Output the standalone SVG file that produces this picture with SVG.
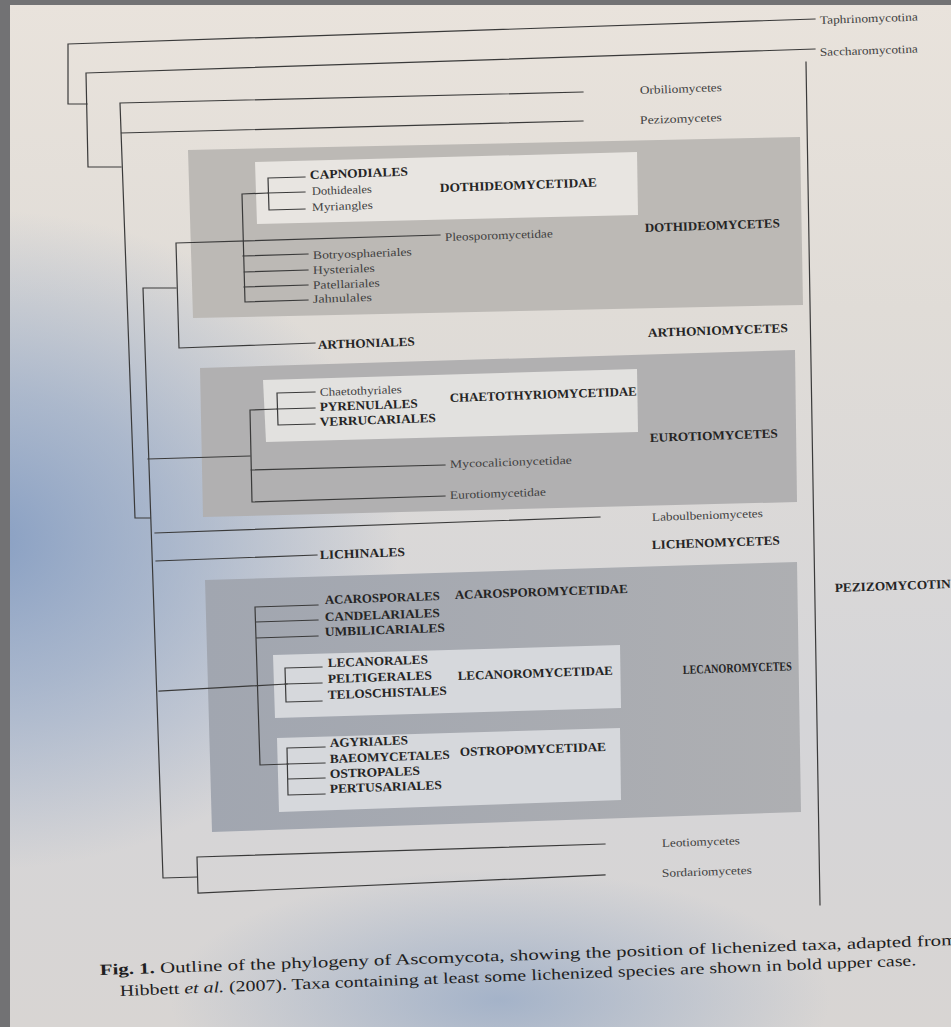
<svg xmlns="http://www.w3.org/2000/svg" width="951" height="1027" viewBox="0 0 951 1027">
<defs>
<linearGradient id="pg" x1="0" y1="0" x2="0" y2="1">
<stop offset="0" stop-color="#e9e3dc"/>
<stop offset="0.3" stop-color="#e0dcd7"/>
<stop offset="0.7" stop-color="#d5d5d8"/>
<stop offset="1" stop-color="#d8d5d3"/>
</linearGradient>
<radialGradient id="bl" gradientUnits="userSpaceOnUse" cx="0" cy="0" r="1" gradientTransform="translate(-20,540) scale(420,330)">
<stop offset="0" stop-color="#7e98c0" stop-opacity="0.9"/>
<stop offset="0.45" stop-color="#8aa1c4" stop-opacity="0.6"/>
<stop offset="1" stop-color="#8aa1c4" stop-opacity="0"/>
</radialGradient>
<radialGradient id="bb" gradientUnits="userSpaceOnUse" cx="0" cy="0" r="1" gradientTransform="translate(500,1000) scale(330,130)">
<stop offset="0" stop-color="#8ea4c4" stop-opacity="0.7"/>
<stop offset="1" stop-color="#8ea4c4" stop-opacity="0"/>
</radialGradient>
<linearGradient id="lg" x1="0" y1="0" x2="1" y2="0">
<stop offset="0" stop-color="#a1a6b0"/>
<stop offset="1" stop-color="#aeafb2"/>
</linearGradient>
</defs>
<style>
.ln{stroke:#3a3a3a;stroke-width:1.2;fill:none;stroke-linecap:square}
.r{font-family:"Liberation Serif","Times New Roman",serif;font-size:11.5px;fill:#3f3f3f}
.b{font-family:"Liberation Serif","Times New Roman",serif;font-size:12.5px;font-weight:bold;fill:#242424}
.cap{font-family:"Liberation Serif","Times New Roman",serif;font-size:15.5px;fill:#1e1e22}
</style>
<g id="background">
<rect x="0" y="0" width="951" height="1027" fill="url(#pg)"/>
<rect x="0" y="0" width="951" height="1027" fill="url(#bl)"/>
<rect x="0" y="0" width="951" height="1027" fill="url(#bb)"/>
<rect x="0" y="0" width="10" height="1027" fill="#727274"/>
<rect x="0" y="0" width="951" height="5" fill="#727274"/>
</g>
<g id="boxes">
<polygon id="box-dothideomycetes" points="188,150 800,137 803,305 193,318" fill="#bcb9b5"/>
<polygon id="box-dothideomycetidae" points="255,162 637,152 638,215 257,224" fill="#e8e5e1"/>
<polygon id="box-eurotiomycetes" points="200,368 795,350 797,502 203,517" fill="#b1b0b1"/>
<polygon id="box-chaetothyriomycetidae" points="263,380 637,369 638,432 266,442" fill="#e2e1df"/>
<polygon id="box-lecanoromycetes" points="205,580 797,562 801,812 212,832" fill="url(#lg)"/>
<polygon id="box-lecanoromycetidae" points="273,655 620,645 621,708 275,718" fill="#d6d8dc"/>
<polygon id="box-ostropomycetidae" points="277,738 620,728 621,800 279,812" fill="#d6d8dc"/>
</g>
<g id="connectors" class="ln">
<path d="M68,44 L68,104 M68,44 L815,19 M68,104 L87,104"/>
<path d="M86,73 L88,167 M86,73 L815,49 M88,167 L121,167"/>
<path d="M120,103 L135,518 M120,103 L583,92 M121,133 L583,121 M135,518 L150,518"/>
<path d="M143,288 L163,878 M143,288 L176,288 M148,459 L250,456 M155,533 L600,517 M156,561 L317,555 M159,691 L287,684 M163,878 L197,877"/>
<path d="M176,243 L179,348 M176,243 L440,235 M179,348 L315,343"/>
<path d="M242,194 L245,302 M242,194 L268,193 M243,256 L308,254 M244,272 L308,270 M244,287 L308,285 M245,302 L308,300"/>
<path d="M268,178 L269,210 M268,178 L305,177 M268,193 L305,192 M269,210 L305,209"/>
<path d="M250,410 L252,502 M250,410 L277,409 M251,470 L445,465 M252,502 L445,496"/>
<path d="M277,393 L278,425 M277,393 L315,392 M277,409 L315,408 M278,425 L315,424"/>
<path d="M255,607 L260,765 M255,607 L318,605 M256,622 L318,620 M256,638 L318,636 M260,765 L288,764"/>
<path d="M285,668 L286,702 M285,668 L322,667 M285,684 L322,683 M286,702 L322,701"/>
<path d="M287,748 L288,795 M287,748 L325,747 M287,764 L325,763 M288,779 L325,778 M288,795 L325,794"/>
<path d="M197,857 L198,893 M197,857 L605,844 M198,893 L605,875"/>
<path d="M806,62 L820,905"/>
</g>
<g id="n-taphrinomycotina"><text class="r" x="820" y="24" textLength="98" lengthAdjust="spacingAndGlyphs" transform="rotate(-2 820 24)">Taphrinomycotina</text></g>
<g id="n-saccharomycotina"><text class="r" x="820" y="56" textLength="98" lengthAdjust="spacingAndGlyphs" transform="rotate(-2 820 56)">Saccharomycotina</text></g>
<g id="n-orbiliomycetes"><text class="r" x="640" y="94" textLength="82" lengthAdjust="spacingAndGlyphs" transform="rotate(-2 640 94)">Orbiliomycetes</text></g>
<g id="n-pezizomycetes"><text class="r" x="640" y="124" textLength="82" lengthAdjust="spacingAndGlyphs" transform="rotate(-2 640 124)">Pezizomycetes</text></g>
<g id="n-capnodiales"><text class="b" x="310" y="179" textLength="98" lengthAdjust="spacingAndGlyphs" transform="rotate(-2 310 179)">CAPNODIALES</text></g>
<g id="n-dothideales"><text class="r" x="312" y="195" textLength="60" lengthAdjust="spacingAndGlyphs" transform="rotate(-2 312 195)">Dothideales</text></g>
<g id="n-myriangles"><text class="r" x="312" y="211" textLength="61" lengthAdjust="spacingAndGlyphs" transform="rotate(-2 312 211)">Myriangles</text></g>
<g id="n-dothideomycetidae"><text class="b" x="440" y="192" textLength="157" lengthAdjust="spacingAndGlyphs" transform="rotate(-2 440 192)">DOTHIDEOMYCETIDAE</text></g>
<g id="n-pleosporomycetidae"><text class="r" x="445" y="241" textLength="108" lengthAdjust="spacingAndGlyphs" transform="rotate(-2 445 241)">Pleosporomycetidae</text></g>
<g id="n-dothideomycetes"><text class="b" x="645" y="232" textLength="135" lengthAdjust="spacingAndGlyphs" transform="rotate(-2 645 232)">DOTHIDEOMYCETES</text></g>
<g id="n-botryosphaeriales"><text class="r" x="313" y="259" textLength="99" lengthAdjust="spacingAndGlyphs" transform="rotate(-2 313 259)">Botryosphaeriales</text></g>
<g id="n-hysteriales"><text class="r" x="313" y="274" textLength="62" lengthAdjust="spacingAndGlyphs" transform="rotate(-2 313 274)">Hysteriales</text></g>
<g id="n-patellariales"><text class="r" x="313" y="289" textLength="67" lengthAdjust="spacingAndGlyphs" transform="rotate(-2 313 289)">Patellariales</text></g>
<g id="n-jahnulales"><text class="r" x="313" y="303" textLength="59" lengthAdjust="spacingAndGlyphs" transform="rotate(-2 313 303)">Jahnulales</text></g>
<g id="n-arthoniales"><text class="b" x="318" y="349" textLength="97" lengthAdjust="spacingAndGlyphs" transform="rotate(-2 318 349)">ARTHONIALES</text></g>
<g id="n-arthoniomycetes"><text class="b" x="648" y="337" textLength="140" lengthAdjust="spacingAndGlyphs" transform="rotate(-2 648 337)">ARTHONIOMYCETES</text></g>
<g id="n-chaetothyriales"><text class="r" x="320" y="396" textLength="82" lengthAdjust="spacingAndGlyphs" transform="rotate(-2 320 396)">Chaetothyriales</text></g>
<g id="n-pyrenulales"><text class="b" x="320" y="411" textLength="98" lengthAdjust="spacingAndGlyphs" transform="rotate(-2 320 411)">PYRENULALES</text></g>
<g id="n-verrucariales"><text class="b" x="320" y="426" textLength="116" lengthAdjust="spacingAndGlyphs" transform="rotate(-2 320 426)">VERRUCARIALES</text></g>
<g id="n-chaetothyriomycetidae"><text class="b" x="450" y="402" textLength="187" lengthAdjust="spacingAndGlyphs" transform="rotate(-2 450 402)">CHAETOTHYRIOMYCETIDAE</text></g>
<g id="n-eurotiomycetes"><text class="b" x="650" y="442" textLength="128" lengthAdjust="spacingAndGlyphs" transform="rotate(-2 650 442)">EUROTIOMYCETES</text></g>
<g id="n-mycocalicionycetidae"><text class="r" x="450" y="468" textLength="122" lengthAdjust="spacingAndGlyphs" transform="rotate(-2 450 468)">Mycocalicionycetidae</text></g>
<g id="n-eurotiomycetidae"><text class="r" x="450" y="499" textLength="96" lengthAdjust="spacingAndGlyphs" transform="rotate(-2 450 499)">Eurotiomycetidae</text></g>
<g id="n-laboulbeniomycetes"><text class="r" x="652" y="521" textLength="111" lengthAdjust="spacingAndGlyphs" transform="rotate(-2 652 521)">Laboulbeniomycetes</text></g>
<g id="n-lichenomycetes"><text class="b" x="652" y="549" textLength="128" lengthAdjust="spacingAndGlyphs" transform="rotate(-2 652 549)">LICHENOMYCETES</text></g>
<g id="n-lichinales"><text class="b" x="320" y="559" textLength="85" lengthAdjust="spacingAndGlyphs" transform="rotate(-2 320 559)">LICHINALES</text></g>
<g id="n-pezizomycotina"><text class="b" x="835" y="592" textLength="116" lengthAdjust="spacingAndGlyphs" transform="rotate(-2 835 592)">PEZIZOMYCOTIN</text></g>
<g id="n-acarosporales"><text class="b" x="325" y="604" textLength="115" lengthAdjust="spacingAndGlyphs" transform="rotate(-2 325 604)">ACAROSPORALES</text></g>
<g id="n-acarosporomycetidae"><text class="b" x="455" y="599" textLength="173" lengthAdjust="spacingAndGlyphs" transform="rotate(-2 455 599)">ACAROSPOROMYCETIDAE</text></g>
<g id="n-candelariales"><text class="b" x="325" y="621" textLength="115" lengthAdjust="spacingAndGlyphs" transform="rotate(-2 325 621)">CANDELARIALES</text></g>
<g id="n-umbilicariales"><text class="b" x="325" y="636" textLength="120" lengthAdjust="spacingAndGlyphs" transform="rotate(-2 325 636)">UMBILICARIALES</text></g>
<g id="n-lecanorales"><text class="b" x="328" y="667" textLength="100" lengthAdjust="spacingAndGlyphs" transform="rotate(-2 328 667)">LECANORALES</text></g>
<g id="n-peltigerales"><text class="b" x="328" y="683" textLength="104" lengthAdjust="spacingAndGlyphs" transform="rotate(-2 328 683)">PELTIGERALES</text></g>
<g id="n-lecanoromycetidae"><text class="b" x="458" y="680" textLength="155" lengthAdjust="spacingAndGlyphs" transform="rotate(-2 458 680)">LECANOROMYCETIDAE</text></g>
<g id="n-lecanoromycetes"><text class="b" x="683" y="674" textLength="109" lengthAdjust="spacingAndGlyphs" transform="rotate(-2 683 674)">LECANOROMYCETES</text></g>
<g id="n-teloschistales"><text class="b" x="328" y="699" textLength="119" lengthAdjust="spacingAndGlyphs" transform="rotate(-2 328 699)">TELOSCHISTALES</text></g>
<g id="n-agyriales"><text class="b" x="330" y="747" textLength="78" lengthAdjust="spacingAndGlyphs" transform="rotate(-2 330 747)">AGYRIALES</text></g>
<g id="n-baeomycetales"><text class="b" x="330" y="763" textLength="120" lengthAdjust="spacingAndGlyphs" transform="rotate(-2 330 763)">BAEOMYCETALES</text></g>
<g id="n-ostropomycetidae"><text class="b" x="460" y="756" textLength="146" lengthAdjust="spacingAndGlyphs" transform="rotate(-2 460 756)">OSTROPOMYCETIDAE</text></g>
<g id="n-ostropales"><text class="b" x="330" y="778" textLength="90" lengthAdjust="spacingAndGlyphs" transform="rotate(-2 330 778)">OSTROPALES</text></g>
<g id="n-pertusariales"><text class="b" x="330" y="793" textLength="112" lengthAdjust="spacingAndGlyphs" transform="rotate(-2 330 793)">PERTUSARIALES</text></g>
<g id="n-leotiomycetes"><text class="r" x="662" y="847" textLength="78" lengthAdjust="spacingAndGlyphs" transform="rotate(-2 662 847)">Leotiomycetes</text></g>
<g id="n-sordariomycetes"><text class="r" x="662" y="877" textLength="90" lengthAdjust="spacingAndGlyphs" transform="rotate(-2 662 877)">Sordariomycetes</text></g>
<g id="caption">
<text class="cap" x="100" y="975" textLength="858" lengthAdjust="spacingAndGlyphs" transform="rotate(-2 100 975)"><tspan font-weight="bold">Fig. 1.</tspan> Outline of the phylogeny of Ascomycota, showing the position of lichenized taxa, adapted from</text>
<text class="cap" x="120" y="996" textLength="797" lengthAdjust="spacingAndGlyphs" transform="rotate(-2.2 120 996)">Hibbett <tspan font-style="italic">et al.</tspan> (2007). Taxa containing at least some lichenized species are shown in bold upper case.</text>
</g>
</svg>
